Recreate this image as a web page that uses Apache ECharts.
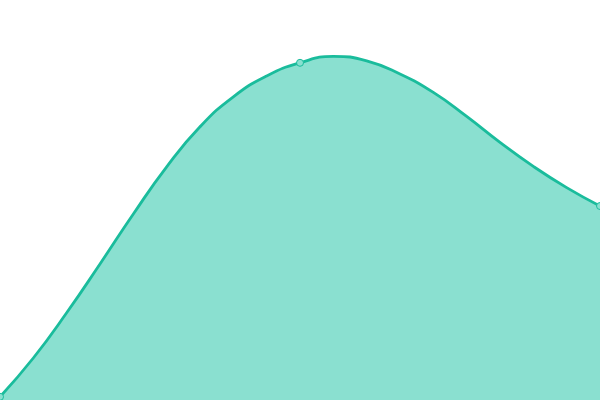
<!DOCTYPE html>
<html><head><meta charset="utf-8">
<script src="https://cdn.jsdelivr.net/npm/echarts@6/dist/echarts.min.js"></script>
<style>html,body{margin:0;padding:0;}#c{width:600px;height:400px;}</style>
</head><body><div id="c"></div>
<script>
const categories = ['1','2','3','4','5','6','7','8','9','10','11','12','13','14','15','16','17','18','19'];
const values = [0.8, 10.5, 21.8, 34, 46.5, 58.3, 68.3, 75.8, 81, 84.3, 85.9, 84.8, 81.5, 76.9, 70.9, 64.4, 58.4, 53.1, 48.5];
const markedIndices = [0, 9, 18];

const seriesData = values.map(function (v, i) {
  return markedIndices.indexOf(i) >= 0 ? { value: v } : { value: v, symbol: 'none' };
});

const chart = echarts.init(document.getElementById('c'));
chart.setOption({
  animation: false,
  grid: { left: 0, right: 0, top: 0, bottom: 0 },
  xAxis: { type: 'category', data: categories, boundaryGap: false, show: false },
  yAxis: { type: 'value', min: 0, max: 100, show: false },
  series: [{
    type: 'line',
    data: seriesData,
    smooth: true,
    showAllSymbol: true,
    symbol: 'circle',
    symbolSize: 7,
    lineStyle: { color: '#1abc9c', width: 2.8 },
    itemStyle: { color: '#8ae0d0', borderColor: '#1abc9c', borderWidth: 1 },
    areaStyle: { color: '#8ae0d0', opacity: 1 }
  }]
});
</script></body></html>
